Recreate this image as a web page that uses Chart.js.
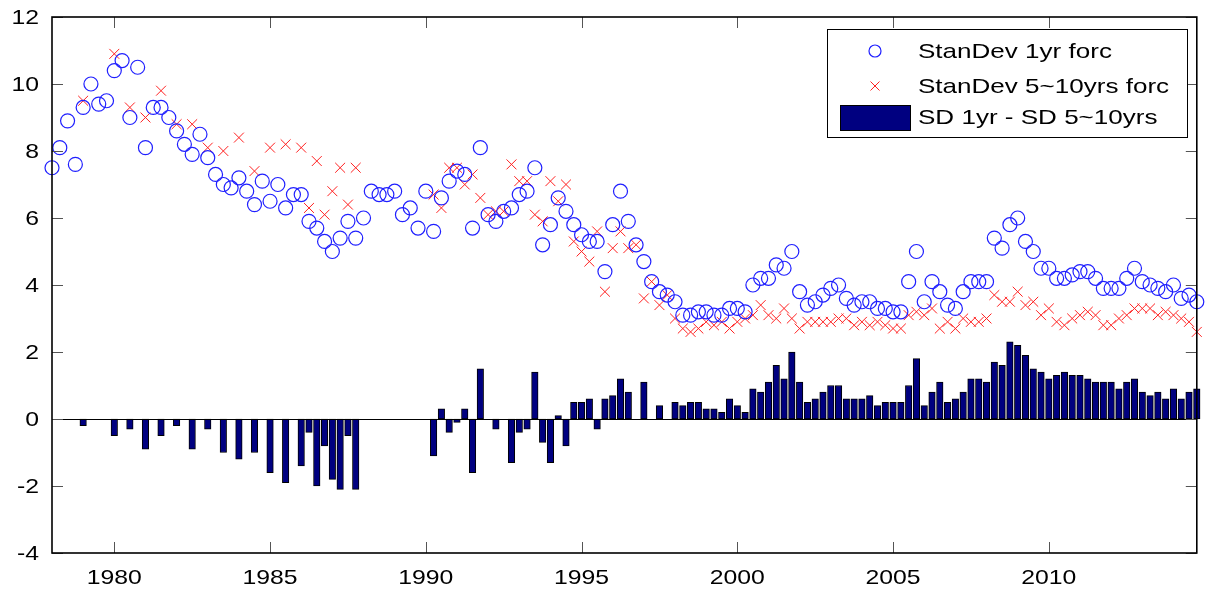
<!DOCTYPE html>
<html>
<head>
<meta charset="utf-8">
<script src="https://cdn.jsdelivr.net/npm/chart.js@4"></script>
<style>
  html, body { margin: 0; padding: 0; background: #fff; }
  #wrap { width: 1205px; height: 594px; }
</style>
</head>
<body>
<div id="wrap"><canvas id="chart" width="1205" height="594"></canvas></div>
<script>
// quarterly values, first point = 1978 Q1, one row = two years
const startYear = 1978;

const sd1yr = [
  7.5, 8.1, 8.9, 7.6,   9.3, 10.0, 9.4, 9.5,
  10.4, 10.7, 9.0, 10.5, 8.1, 9.3, 9.3, 9.0,
  8.6, 8.2, 7.9, 8.5,   7.8, 7.3, 7.0, 6.9,
  7.2, 6.8, 6.4, 7.1,   6.5, 7.0, 6.3, 6.7,
  6.7, 5.9, 5.7, 5.3,   5.0, 5.4, 5.9, 5.4,
  6.0, 6.8, 6.7, 6.7,   6.8, 6.1, 6.3, 5.7,
  6.8, 5.6, 6.6, 7.1,   7.4, 7.3, 5.7, 8.1,
  6.1, 5.9, 6.2, 6.3,   6.7, 6.8, 7.5, 5.2,
  5.8, 6.6, 6.2, 5.8,   5.5, 5.3, 5.3, 4.4,
  5.8, 6.8, 5.9, 5.2,   4.7, 4.1, 3.8, 3.7,
  3.5, 3.1, 3.1, 3.2,   3.2, 3.1, 3.1, 3.3,
  3.3, 3.2, 4.0, 4.2,   4.2, 4.6, 4.5, 5.0,
  3.8, 3.4, 3.5, 3.7,   3.9, 4.0, 3.6, 3.4,
  3.5, 3.5, 3.3, 3.3,   3.2, 3.2, 4.1, 5.0,
  3.5, 4.1, 3.8, 3.4,   3.3, 3.8, 4.1, 4.1,
  4.1, 5.4, 5.1, 5.8,   6.0, 5.3, 5.0, 4.5,
  4.5, 4.2, 4.2, 4.3,   4.4, 4.4, 4.2, 3.9,
  3.9, 3.9, 4.2, 4.5,   4.1, 4.0, 3.9, 3.8,
  4.0, 3.6, 3.7, 3.5
];

const sd5to10 = [
  null, null, null, null, 9.5, null, null, null,
  10.9, null, 9.3, null,  9.0, null, 9.8, null,
  8.8, null, 8.8, null,   8.1, null, 8.0, null,
  8.4, null, 7.4, null,   8.1, null, 8.2, null,
  8.1, 6.3, 7.7, 6.1,     6.8, 7.5, 6.4, 7.5,
  null, null, null, null, null, null, null, null,
  null, 6.7, 6.3, 7.5,    7.5, 7.0, 7.3, 6.6,
  6.1, 6.2, 6.2, 7.6,     7.1, 7.1, 6.1, 5.9,
  7.1, 6.5, 7.0, 5.3,     5.0, 4.7, 5.6, 3.8,
  5.1, 5.6, 5.1, 5.2,     3.6, 4.1, 3.4, 3.7,
  3.0, 2.7, 2.6, 2.7,     2.9, 2.8, 2.9, 2.7,
  2.9, 3.0, 3.1, 3.4,     3.1, 3.0, 3.3, 3.0,
  2.7, 2.9, 2.9, 2.9,     2.9, 3.0, 3.0, 2.8,
  2.9, 2.8, 2.9, 2.8,     2.7, 2.7, 3.1, 3.2,
  3.1, 3.3, 2.7, 2.9,     2.7, 3.0, 2.9, 2.9,
  3.0, 3.7, 3.5, 3.5,     3.8, 3.4, 3.5, 3.1,
  3.3, 2.9, 2.8, 3.0,     3.1, 3.2, 3.1, 2.8,
  2.8, 3.0, 3.1, 3.3,     3.3, 3.3, 3.1, 3.2,
  3.1, 3.0, 2.9, 2.6
];

const sdDiff = [
  null, null, null, null, -0.2, null, null, null,
  -0.5, null, -0.3, null, -0.9, null, -0.5, null,
  -0.2, null, -0.9, null, -0.3, null, -1.0, null,
  -1.2, null, -1.0, null, -1.6, null, -1.9, null,
  -1.4, -0.4, -2.0, -0.8, -1.8, -2.1, -0.5, -2.1,
  null, null, null, null, null, null, null, null,
  null, -1.1, 0.3, -0.4,  -0.1, 0.3, -1.6, 1.5,
  0, -0.3, 0, -1.3,       -0.4, -0.3, 1.4, -0.7,
  -1.3, 0.1, -0.8, 0.5,   0.5, 0.6, -0.3, 0.6,
  0.7, 1.2, 0.8, 0,       1.1, 0, 0.4, 0,
  0.5, 0.4, 0.5, 0.5,     0.3, 0.3, 0.2, 0.6,
  0.4, 0.2, 0.9, 0.8,     1.1, 1.6, 1.2, 2.0,
  1.1, 0.5, 0.6, 0.8,     1.0, 1.0, 0.6, 0.6,
  0.6, 0.7, 0.4, 0.5,     0.5, 0.5, 1.0, 1.8,
  0.4, 0.8, 1.1, 0.5,     0.6, 0.8, 1.2, 1.2,
  1.1, 1.7, 1.6, 2.3,     2.2, 1.9, 1.5, 1.4,
  1.2, 1.3, 1.4, 1.3,     1.3, 1.2, 1.1, 1.1,
  1.1, 0.9, 1.1, 1.2,     0.8, 0.7, 0.8, 0.6,
  0.9, 0.6, 0.8, 0.9
];

const xTicks = [1980, 1985, 1990, 1995, 2000, 2005, 2010];
const yTicks = [-4, -2, 0, 2, 4, 6, 8, 10, 12];
const seriesLabels = ['StanDev 1yr forc', 'StanDev 5~10yrs forc', 'SD 1yr - SD 5~10yrs'];

const quarters = sd1yr.map((_, i) => startYear + i / 4);
function toPoints(values) {
    return values.map((v, i) => ({ x: quarters[i], y: v }));
}

const FONT = "'Liberation Sans', Arial, sans-serif";

// the original text is drawn a bit wide
function wideText(ctx, text, x, y, align, stretch) {
    ctx.save();
    ctx.translate(x, y);
    ctx.scale(stretch, 1);
    ctx.textAlign = align;
    ctx.textBaseline = 'middle';
    ctx.fillText(text, 0, 0);
    ctx.restore();
}

// axes box with inward ticks on all four sides, bar baseline, tick labels, legend
const framePlugin = {
    id: 'matlabFrame',
    afterDraw(chart) {
        const ctx = chart.ctx;
        const a = chart.chartArea;
        const sx = chart.scales.x;
        const sy = chart.scales.y;

        ctx.save();
        const y0 = Math.round(sy.getPixelForValue(0)) + 0.5;
        ctx.strokeStyle = '#000';
        ctx.lineWidth = 1.2;
        ctx.beginPath();
        ctx.moveTo(a.left, y0);
        ctx.lineTo(a.right, y0);
        ctx.stroke();

        const tl = 11;
        ctx.lineWidth = 1;
        ctx.strokeStyle = '#555';
        ctx.beginPath();
        yTicks.forEach(v => {
            const py = Math.round(sy.getPixelForValue(v)) + 0.5;
            ctx.moveTo(a.left, py); ctx.lineTo(a.left + tl, py);
            ctx.moveTo(a.right, py); ctx.lineTo(a.right - tl, py);
        });
        xTicks.forEach(v => {
            const px = Math.round(sx.getPixelForValue(v)) + 0.5;
            ctx.moveTo(px, a.bottom); ctx.lineTo(px, a.bottom - tl);
            ctx.moveTo(px, a.top); ctx.lineTo(px, a.top + tl);
        });
        ctx.stroke();

        ctx.strokeStyle = '#000';
        ctx.lineWidth = 1.6;
        ctx.strokeRect(a.left, a.top, a.right - a.left, a.bottom - a.top);

        ctx.fillStyle = '#000';
        ctx.font = '21px ' + FONT;
        yTicks.forEach(v => wideText(ctx, String(v), a.left - 13, sy.getPixelForValue(v) + 1, 'right', 1.18));
        xTicks.forEach(v => wideText(ctx, String(v), sx.getPixelForValue(v), a.bottom + 25, 'center', 1.18));

        // legend box, top right
        const ds = chart.data.datasets;
        const box = { x: 827, y: 29, w: 360, h: 108 };
        const rows = [51, 86, 117];
        const mx = 875;
        ctx.fillStyle = '#fff';
        ctx.fillRect(box.x, box.y, box.w, box.h);
        ctx.strokeStyle = '#000';
        ctx.lineWidth = 1;
        ctx.strokeRect(box.x + 0.5, box.y + 0.5, box.w, box.h);

        ctx.strokeStyle = ds[0].borderColor;
        ctx.lineWidth = 1.2;
        ctx.beginPath();
        ctx.arc(mx, rows[0], 6, 0, Math.PI * 2);
        ctx.stroke();

        ctx.strokeStyle = ds[1].borderColor;
        ctx.lineWidth = 1;
        ctx.beginPath();
        ctx.moveTo(mx - 4.5, rows[1] - 4.5); ctx.lineTo(mx + 4.5, rows[1] + 4.5);
        ctx.moveTo(mx + 4.5, rows[1] - 4.5); ctx.lineTo(mx - 4.5, rows[1] + 4.5);
        ctx.stroke();

        ctx.fillStyle = ds[2].backgroundColor;
        ctx.fillRect(840, rows[2] - 12, 70, 25);
        ctx.strokeStyle = '#000';
        ctx.strokeRect(840.5, rows[2] - 11.5, 70, 25);

        ctx.fillStyle = '#000';
        ctx.font = '21px ' + FONT;
        seriesLabels.forEach((t, i) => wideText(ctx, t, 918, rows[i] + 1, 'left', 1.24));
        ctx.restore();
    }
};

new Chart(document.getElementById('chart'), {
    type: 'bar',
    data: {
        datasets: [
            {
                type: 'scatter',
                label: seriesLabels[0],
                data: toPoints(sd1yr),
                pointStyle: 'circle',
                pointRadius: 7,
                borderColor: '#1f1fff',
                backgroundColor: 'rgba(0,0,0,0)',
                borderWidth: 1.2,
                clip: false,
                order: 1
            },
            {
                type: 'scatter',
                label: seriesLabels[1],
                data: toPoints(sd5to10),
                pointStyle: 'crossRot',
                pointRadius: 7,
                borderColor: '#ff2020',
                backgroundColor: '#ff2020',
                borderWidth: 1,
                clip: false,
                order: 2
            },
            {
                type: 'bar',
                label: seriesLabels[2],
                data: toPoints(sdDiff),
                backgroundColor: '#000080',
                borderColor: '#000000',
                borderWidth: 1,
                borderSkipped: false,
                barThickness: 6.5,
                clip: false,
                order: 3
            }
        ]
    },
    options: {
        responsive: false,
        animation: false,
        devicePixelRatio: 1,
        layout: { padding: { top: 17, right: 8, left: 0, bottom: 0 } },
        plugins: {
            legend: { display: false },
            tooltip: { enabled: false }
        },
        scales: {
            x: {
                type: 'linear',
                min: 1978,
                max: 2014.75,
                offset: false,
                grid: { display: false },
                border: { display: false },
                afterBuildTicks: s => { s.ticks = xTicks.map(v => ({ value: v })); },
                afterFit: s => { s.height = 41; },
                ticks: { display: false }
            },
            y: {
                min: -4,
                max: 12,
                grid: { display: false },
                border: { display: false },
                afterBuildTicks: s => { s.ticks = yTicks.map(v => ({ value: v })); },
                afterFit: s => { s.width = 52; },
                ticks: { display: false }
            }
        }
    },
    plugins: [framePlugin]
});
</script>
</body>
</html>
